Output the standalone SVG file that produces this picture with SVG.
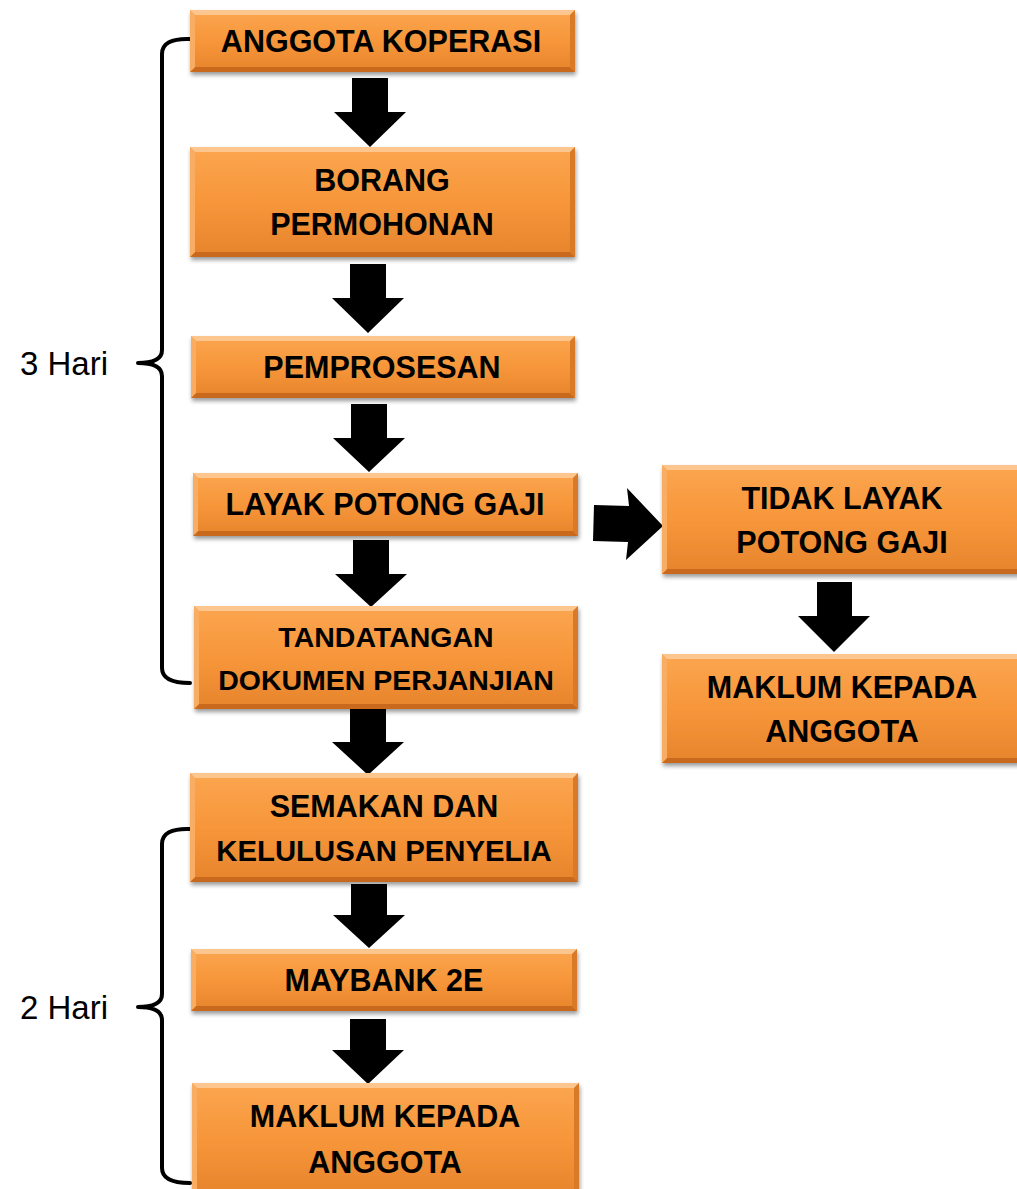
<svg xmlns="http://www.w3.org/2000/svg" width="1017" height="1189" viewBox="0 0 1017 1189">
<defs>
<linearGradient id="og" x1="0" y1="0" x2="0" y2="1">
<stop offset="0" stop-color="#fba650"/>
<stop offset="0.5" stop-color="#f7963a"/>
<stop offset="1" stop-color="#e5842b"/>
</linearGradient>
<filter id="sh" x="-10%" y="-10%" width="120%" height="130%">
<feDropShadow dx="1" dy="3" stdDeviation="2" flood-color="#000" flood-opacity="0.4"/>
</filter>
</defs>
<style>
.box{fill:url(#og);filter:url(#sh)}
.bt{fill:#fdc68e}
.bb{fill:#c8691d}
.bl{fill:#f9ad62}
.br{fill:#d97a27}
.t{font-family:"Liberation Sans",Arial,sans-serif;font-weight:bold;font-size:30.5px;fill:#000;text-anchor:middle}
.lab{font-family:"Liberation Sans",Arial,sans-serif;font-size:33px;fill:#000}
.arr{fill:#000}
.brace{fill:none;stroke:#000;stroke-width:4;stroke-linecap:round;stroke-linejoin:round}
</style>

<g id="connectors">
<polygon class="arr" points="352,78 388,78 388,112 406,112 370,147 334,112 352,112"/>
<polygon class="arr" points="350,264 386,264 386,298 404,298 368,333 332,298 350,298"/>
<polygon class="arr" points="351,404 387,404 387,438 405,438 369,472 333,438 351,438"/>
<polygon class="arr" points="353,540 389,540 389,574 407,574 371,607 335,574 353,574"/>
<polygon class="arr" points="350,709 386,709 386,742 404,742 368,775 332,742 350,742"/>
<polygon class="arr" points="351,884 387,884 387,915 405,915 369,948 333,915 351,915"/>
<polygon class="arr" points="350,1019 386,1019 386,1050 404,1050 368,1084 332,1050 350,1050"/>
<polygon class="arr" points="817,582 852,582 852,616 870,616 834,652 798,616 817,616"/>
<polygon class="arr" points="594,505 629,506 627,488 663,526 626,560 628,542 593,541"/>
</g>

<g id="braces">
<path class="brace" d="M190,39 Q162,38 162,54 L162,350 Q162,363 138,363 Q162,363 162,376 L162,668 Q162,683 190,683"/>
<path class="brace" d="M190,829 Q162,828 162,844 L162,994 Q162,1007 138,1007 Q162,1007 162,1020 L162,1168 Q162,1183 190,1183"/>
<text class="lab" x="20" y="375">3 Hari</text>
<text class="lab" x="20" y="1019">2 Hari</text>
</g>

<g id="n1">
<rect class="box" x="190" y="10" width="385" height="62"/>
<polygon class="bt" points="190,10 575,10 570,15 195,15"/>
<polygon class="bb" points="190,72 575,72 570,67 195,67"/>
<polygon class="bl" points="190,10 195,15 195,67 190,72"/>
<polygon class="br" points="575,10 570,15 570,67 575,72"/>
<text class="t" x="381" y="52">ANGGOTA KOPERASI</text>
</g>

<g id="n2">
<rect class="box" x="190" y="147" width="385" height="110"/>
<polygon class="bt" points="190,147 575,147 570,152 195,152"/>
<polygon class="bb" points="190,257 575,257 570,252 195,252"/>
<polygon class="bl" points="190,147 195,152 195,252 190,257"/>
<polygon class="br" points="575,147 570,152 570,252 575,257"/>
<text class="t" x="382" y="191">BORANG</text>
<text class="t" x="382" y="235">PERMOHONAN</text>
</g>

<g id="n3">
<rect class="box" x="191" y="336" width="384" height="62"/>
<polygon class="bt" points="191,336 575,336 570,341 196,341"/>
<polygon class="bb" points="191,398 575,398 570,393 196,393"/>
<polygon class="bl" points="191,336 196,341 196,393 191,398"/>
<polygon class="br" points="575,336 570,341 570,393 575,398"/>
<text class="t" x="382" y="378">PEMPROSESAN</text>
</g>

<g id="n4">
<rect class="box" x="193" y="473" width="385" height="63"/>
<polygon class="bt" points="193,473 578,473 573,478 198,478"/>
<polygon class="bb" points="193,536 578,536 573,531 198,531"/>
<polygon class="bl" points="193,473 198,478 198,531 193,536"/>
<polygon class="br" points="578,473 573,478 573,531 578,536"/>
<text class="t" x="385" y="515">LAYAK POTONG GAJI</text>
</g>

<g id="n5">
<rect class="box" x="194" y="606" width="384" height="103"/>
<polygon class="bt" points="194,606 578,606 573,611 199,611"/>
<polygon class="bb" points="194,709 578,709 573,704 199,704"/>
<polygon class="bl" points="194,606 199,611 199,704 194,709"/>
<polygon class="br" points="578,606 573,611 573,704 578,709"/>
<text class="t" x="386" y="647" style="font-size:28.5px">TANDATANGAN</text>
<text class="t" x="386" y="690" style="font-size:28.5px">DOKUMEN PERJANJIAN</text>
</g>

<g id="n6">
<rect class="box" x="190" y="773" width="388" height="109"/>
<polygon class="bt" points="190,773 578,773 573,778 195,778"/>
<polygon class="bb" points="190,882 578,882 573,877 195,877"/>
<polygon class="bl" points="190,773 195,778 195,877 190,882"/>
<polygon class="br" points="578,773 573,778 573,877 578,882"/>
<text class="t" x="384" y="817">SEMAKAN DAN</text>
<text class="t" x="384" y="861" style="font-size:29.3px">KELULUSAN PENYELIA</text>
</g>

<g id="n7">
<rect class="box" x="191" y="949" width="386" height="62"/>
<polygon class="bt" points="191,949 577,949 572,954 196,954"/>
<polygon class="bb" points="191,1011 577,1011 572,1006 196,1006"/>
<polygon class="bl" points="191,949 196,954 196,1006 191,1011"/>
<polygon class="br" points="577,949 572,954 572,1006 577,1011"/>
<text class="t" x="384" y="991">MAYBANK 2E</text>
</g>

<g id="n8">
<rect class="box" x="192" y="1083" width="387" height="112"/>
<polygon class="bt" points="192,1083 579,1083 574,1088 197,1088"/>
<polygon class="bl" points="192,1083 197,1088 197,1195 192,1195"/>
<polygon class="br" points="579,1083 574,1088 574,1195 579,1195"/>
<text class="t" x="385" y="1127">MAKLUM KEPADA</text>
<text class="t" x="385" y="1173">ANGGOTA</text>
</g>

<g id="n9">
<rect class="box" x="662" y="465" width="360" height="109"/>
<polygon class="bt" points="662,465 1022,465 1017,470 667,470"/>
<polygon class="bb" points="662,574 1022,574 1017,569 667,569"/>
<polygon class="bl" points="662,465 667,470 667,569 662,574"/>
<text class="t" x="842" y="509">TIDAK LAYAK</text>
<text class="t" x="842" y="553">POTONG GAJI</text>
</g>

<g id="n10">
<rect class="box" x="662" y="654" width="360" height="109"/>
<polygon class="bt" points="662,654 1022,654 1017,659 667,659"/>
<polygon class="bb" points="662,763 1022,763 1017,758 667,758"/>
<polygon class="bl" points="662,654 667,659 667,758 662,763"/>
<text class="t" x="842" y="698">MAKLUM KEPADA</text>
<text class="t" x="842" y="742">ANGGOTA</text>
</g>
</svg>
